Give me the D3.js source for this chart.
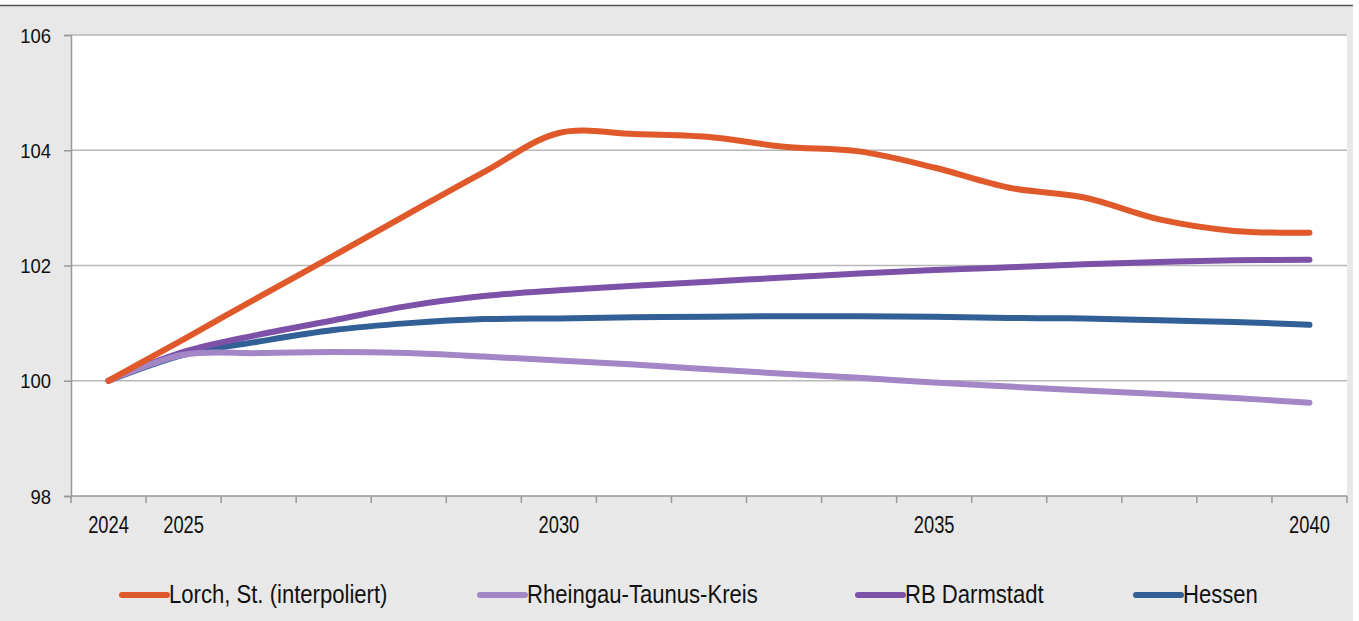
<!DOCTYPE html>
<html lang="de">
<head>
<meta charset="UTF-8">
<script src="https://d3js.org/d3.v7.min.js"></script>
<style>
  body { margin: 0; background: #fff; }
  svg { display: block; }
  text { font-family: "Liberation Sans", Arial, sans-serif; fill: #111; }
</style>
</head>
<body>
<div id="chart"></div>
<script>
  const w = 1359, h = 621;
  const margin = { top: 35, right: 12, bottom: 125, left: 71 };

  // data
  const years = [2024, 2025, 2026, 2027, 2028, 2029, 2030, 2031, 2032, 2033, 2034, 2035, 2036, 2037, 2038, 2039, 2040];
  const lorch = [100, 100.72, 101.45, 102.17, 102.9, 103.62, 104.3, 104.28, 104.23, 104.06, 103.98, 103.7, 103.35, 103.18, 102.8, 102.6, 102.57];
  const rheingau = [100, 100.45, 100.48, 100.5, 100.48, 100.42, 100.35, 100.28, 100.2, 100.12, 100.05, 99.97, 99.9, 99.83, 99.77, 99.7, 99.62];
  const darmstadt = [100, 100.5, 100.8, 101.05, 101.3, 101.47, 101.57, 101.65, 101.72, 101.79, 101.86, 101.92, 101.97, 102.02, 102.06, 102.09, 102.1];
  const hessen = [100, 100.45, 100.68, 100.88, 101.0, 101.07, 101.08, 101.1, 101.11, 101.12, 101.12, 101.11, 101.09, 101.08, 101.05, 101.02, 100.97];
  const yTicks = [98, 100, 102, 104, 106];
  const xLabels = [2024, 2025, 2030, 2035, 2040];

  const series = [
    { name: "Lorch, St. (interpoliert)", values: lorch, color: "#e0592a" },
    { name: "Rheingau-Taunus-Kreis", values: rheingau, color: "#a386c6" },
    { name: "RB Darmstadt", values: darmstadt, color: "#7d51a7" },
    { name: "Hessen", values: hessen, color: "#325f95" }
  ];

  const svg = d3.select("#chart").append("svg")
    .attr("width", w)
    .attr("height", h);

  // gray frame + white strip on top (cut off page)
  svg.append("rect").attr("x", 0).attr("y", 6).attr("width", 1353).attr("height", h - 6).attr("fill", "#e8e8e8");
  svg.append("line").attr("x1", 0).attr("x2", 1353).attr("y1", 5.5).attr("y2", 5.5)
    .attr("stroke", "#555").attr("stroke-width", 1.5);

  const x = d3.scaleBand().domain(years).range([margin.left, w - margin.right]).padding(0);
  const y = d3.scaleLinear().domain([98, 106]).range([h - margin.bottom, margin.top]);
  const cx = d => x(d) + x.bandwidth() / 2;

  // plot area
  svg.append("rect")
    .attr("x", margin.left).attr("y", margin.top)
    .attr("width", x.range()[1] - margin.left).attr("height", y(98) - margin.top)
    .attr("fill", "#fff");

  // gridlines
  svg.append("g").selectAll("line")
    .data(yTicks.filter(d => d > 98))
    .enter().append("line")
    .attr("x1", margin.left).attr("x2", x.range()[1])
    .attr("y1", d => y(d)).attr("y2", d => y(d))
    .attr("stroke", "#b8b8b8").attr("stroke-width", 1.5);

  // y axis (labels drawn separately, the original font is a narrow one)
  const yAxis = d3.axisLeft(y).tickValues(yTicks).tickSize(7).tickFormat("");
  const gy = svg.append("g").attr("transform", "translate(" + margin.left + ",0)").call(yAxis);
  gy.select(".domain").attr("stroke", "#999").attr("stroke-width", 1.5);
  gy.selectAll(".tick line").attr("stroke", "#999").attr("stroke-width", 1.5);
  svg.append("g").selectAll("text").data(yTicks).enter().append("text")
    .attr("transform", d => "translate(51," + (y(d) + 7.5) + ") scale(0.88,1)")
    .attr("text-anchor", "end")
    .style("font-size", "21px")
    .text(d => d);

  // x axis: ticks between categories
  const gx = svg.append("g");
  gx.append("line")
    .attr("x1", margin.left).attr("x2", x.range()[1])
    .attr("y1", y(98)).attr("y2", y(98))
    .attr("stroke", "#999").attr("stroke-width", 1.5);
  const bounds = years.map(d => x(d)).concat([x.range()[1]]);
  gx.selectAll(".xt").data(bounds).enter().append("line")
    .attr("x1", d => d).attr("x2", d => d)
    .attr("y1", y(98)).attr("y2", y(98) + 7)
    .attr("stroke", "#999").attr("stroke-width", 1.5);
  gx.selectAll("text").data(xLabels).enter().append("text")
    .attr("transform", d => "translate(" + cx(d) + "," + (y(98) + 37) + ") scale(0.78,1)")
    .attr("text-anchor", "middle")
    .style("font-size", "23.5px")
    .text(d => d);

  // lines
  const line = d3.line()
    .x((d, i) => cx(years[i]))
    .y(d => y(d))
    .curve(d3.curveCatmullRom.alpha(0.5));

  svg.append("g").selectAll("path")
    .data(series.slice().reverse())
    .enter().append("path")
    .attr("d", d => line(d.values))
    .attr("fill", "none")
    .attr("stroke", d => d.color)
    .attr("stroke-width", 6)
    .attr("stroke-linecap", "round")
    .attr("stroke-linejoin", "round");

  // legend
  const legX = [122, 480, 858, 1136];
  const legY = 595;
  const leg = svg.append("g").selectAll("g")
    .data(series).enter().append("g")
    .attr("transform", (d, i) => "translate(" + legX[i] + "," + legY + ")");
  leg.append("line")
    .attr("x1", 0).attr("x2", 45).attr("y1", 0).attr("y2", 0)
    .attr("stroke", d => d.color).attr("stroke-width", 6).attr("stroke-linecap", "round");
  leg.append("text")
    .attr("transform", "translate(47,8) scale(0.85,1)")
    .style("font-size", "26px")
    .text(d => d.name);
</script>
</body>
</html>
